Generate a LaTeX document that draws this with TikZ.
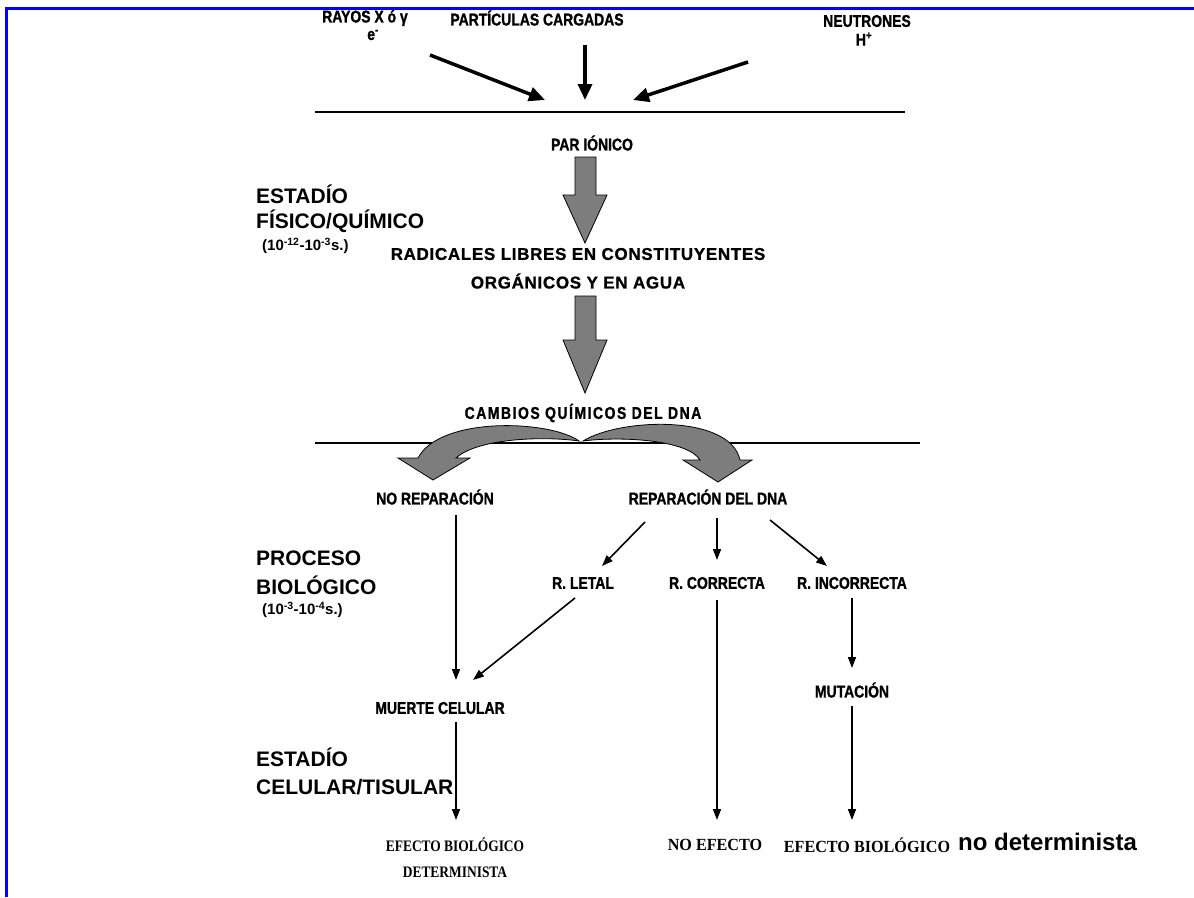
\documentclass[tikz,border=0pt]{standalone}
\usepackage{fontspec}
\setmainfont{Liberation Sans}
\newfontfamily\lab[FakeStretch=0.82,FakeBold=1.2]{Liberation Sans}
\newfontfamily\labwide[FakeStretch=0.82,LetterSpace=9.0,FakeBold=1.2]{Liberation Sans}
\newfontfamily\labspaced[LetterSpace=4.0,FakeBold=1.0]{Liberation Sans}
\newfontfamily\ser[FakeStretch=0.84]{Liberation Serif}
\newfontfamily\serb[FakeStretch=0.95]{Liberation Serif}
\usetikzlibrary{arrows.meta,calc}
\definecolor{frameblue}{RGB}{0,0,255}
\definecolor{blockgray}{RGB}{125,125,125}
\tikzset{
  lbl/.style={font=\lab\bfseries\fontsize{17}{20}\selectfont, inner sep=0pt, anchor=center},
  lblwide/.style={lbl, font=\labspaced\bfseries\fontsize{17}{20}\selectfont},
  heading/.style={font=\bfseries\fontsize{21}{24}\selectfont, inner sep=0pt, anchor=west},
  period/.style={font=\bfseries\fontsize{15}{18}\selectfont, inner sep=0pt, anchor=west},
  result/.style={font=\ser\bfseries\fontsize{16}{19}\selectfont, inner sep=0pt, anchor=center},
  resultbig/.style={font=\serb\bfseries\fontsize{17}{20}\selectfont, inner sep=0pt, anchor=center},
  heavy/.style={line width=3.5pt, -{Triangle[length=16pt,width=14pt]}},
  conn/.style={line width=1.6pt, -{Triangle[length=11pt,width=8pt]}},
  rule/.style={line width=1.2pt},
  block/.style={fill=blockgray, draw=black, line width=0.8pt},
}
\begin{document}
\begin{tikzpicture}[x=1pt,y=-1pt]
\useasboundingbox (0,0) rectangle (1194,897);
\fill[white] (0,0) rectangle (1194,897);
\draw[frameblue, line width=3pt] (6,897) -- (6,8) -- (1194,8);

% sources
\node[lbl] (rayos) at (365,18) {RAYOS X ó γ};
\node[lbl] (elec) at (373,35) {e\textsuperscript{-}};
\node[lbl] (part) at (537,18) {PARTÍCULAS CARGADAS};
\node[lbl] (neut) at (867,21) {NEUTRONES};
\node[lbl] (hplus) at (864,39) {H\textsuperscript{+}};
\coordinate (hitL) at (545,100);
\coordinate (hitM) at (585,100);
\coordinate (hitR) at (633,100);
\draw[heavy] ($(rayos)+(65,37)$) -- (hitL);
\draw[heavy] ($(part)+(48,27)$) -- (hitM);
\draw[heavy] ($(neut)+(-119,41)$) -- (hitR);

\coordinate (r1a) at (315,112);
\coordinate (r1b) at (905,112);
\draw[rule] (r1a) -- (r1b);

% physical/chemical stage
\node[heading] (est1) at (256,194) {ESTADÍO};
\node[heading] (fis) at (256,221) {FÍSICO/QUÍMICO};
\node[period] (t1) at (262,246) {(10\textsuperscript{-12}-10\textsuperscript{-3}s.)};

\node[lbl] (par) at (592,143) {PAR IÓNICO};
\draw[block] (575,157) -- (596,157) -- (596,195) -- (607,195) -- (585,243) -- (563,195) -- (575,195) -- cycle;
\node[lblwide] (rad1) at (578,254) {RADICALES LIBRES EN CONSTITUYENTES};
\node[lblwide] (rad2) at (578,281) {ORGÁNICOS Y EN AGUA};
\draw[block] (575,296) -- (596,296) -- (596,340) -- (607,340) -- (585,393) -- (563,340) -- (575,340) -- cycle;
\node[lbl, font=\labwide\bfseries\fontsize{17}{20}\selectfont] (camb) at (583,413) {CAMBIOS QUÍMICOS DEL DNA};

\coordinate (r2a) at (315,443);
\coordinate (r2b) at (920,443);
\draw[rule] (r2a) -- (r2b);

% curved block arrows
\draw[block] (579,441) .. controls (550,420) and (440,416) .. (418,458)
  -- (398,458) -- (433,480) -- (470,458) -- (456,458)
  .. controls (478,438) and (545,436) .. (579,441) -- cycle;
\draw[block] (583,441) .. controls (620,418) and (730,414) .. (740,460)
  -- (752,460) -- (718,482) -- (683,460) -- (700,460)
  .. controls (688,440) and (622,436) .. (583,441) -- cycle;

% biological process
\node[lbl] (norep) at (435,497) {NO REPARACIÓN};
\node[lbl] (rep) at (708,497) {REPARACIÓN DEL DNA};
\node[heading] (proc) at (256,558) {PROCESO};
\node[heading] (bio) at (256,585) {BIOLÓGICO};
\node[period] (t2) at (262,610) {(10\textsuperscript{-3}-10\textsuperscript{-4}s.)};

\node[lbl] (letal) at (583,583) {R. LETAL};
\node[lbl] (corr) at (717,583) {R. CORRECTA};
\node[lbl] (inc) at (852,583) {R. INCORRECTA};
\node[lbl] (mut) at (852,690) {MUTACIÓN};
\node[lbl] (muerte) at (440,708) {MUERTE CELULAR};

\draw[conn] ($(rep)+(-63,25)$) -- ($(letal)+(19,-17)$);
\draw[conn] ($(rep)+(9,21)$) -- ($(corr)+(0,-23)$);
\draw[conn] ($(rep)+(62,23)$) -- ($(inc)+(-25,-17)$);
\draw[conn] ($(norep)+(21,18)$) -- ($(muerte)+(16,-28)$);
\draw[conn] ($(letal)+(-8,15)$) -- ($(muerte)+(33,-28)$);
\draw[conn] ($(inc)+(0,15)$) -- ($(mut)+(0,-22)$);

% cellular / tissue stage
\node[heading] (est2) at (256,757) {ESTADÍO};
\node[heading] (cel) at (256,787) {CELULAR/TISULAR};

\node[result] (ebd1) at (455,845) {EFECTO BIOLÓGICO};
\node[result] (ebd2) at (455,872) {DETERMINISTA};
\node[resultbig] (noef) at (715,845) {NO EFECTO};
\node[resultbig] (ebn) at (867,845) {EFECTO BIOLÓGICO};
\node[font=\bfseries\fontsize{24}{28}\selectfont, inner sep=0pt, anchor=west] (nodet) at (958,842) {no determinista};

\draw[conn] ($(muerte)+(16,14)$) -- ($(ebd1)+(1,-25)$);
\draw[conn] ($(corr)+(0,17)$) -- ($(noef)+(2,-25)$);
\draw[conn] ($(mut)+(0,16)$) -- ($(ebn)+(-15,-25)$);
\end{tikzpicture}
\end{document}
